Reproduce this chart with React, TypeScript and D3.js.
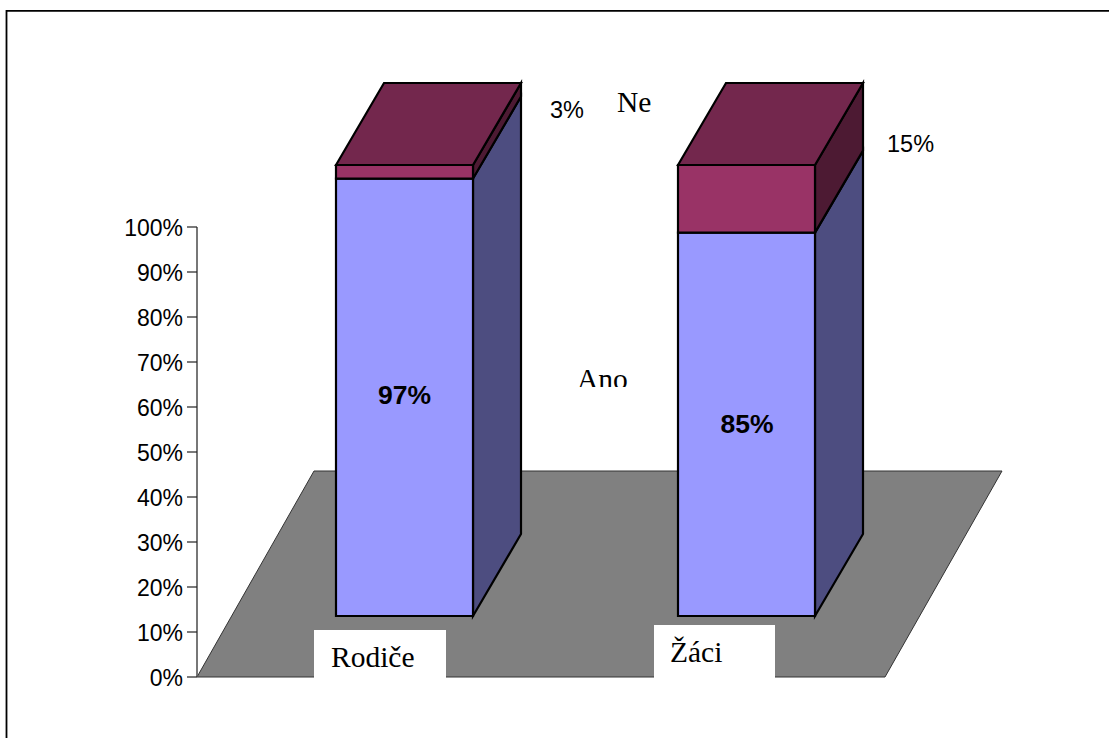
import React from "react";
import * as d3 from "d3";

const categories = ["Rodiče", "Žáci"];
const anoValues = [97, 85];
const neValues = [3, 15];
const anoLabels = ["97%", "85%"];
const neLabels = ["3%", "15%"];
const ticks = [0, 10, 20, 30, 40, 50, 60, 70, 80, 90, 100];

const W = 1109;
const H = 738;
const axisY = d3.scaleLinear().domain([0, 100]).range([677, 227]);
const barY = d3.scaleLinear().domain([0, 100]).range([616, 165]);
const barX = d3.scalePoint<string>().domain(categories).range([336, 678]);
const barW = 137;
const dx = 48;
const dy = 82;

const poly = (pts: [number, number][]) => d3.line()(pts)! + "Z";

const arial = "'Liberation Sans', Arial, sans-serif";
const times = "'Liberation Serif', 'Times New Roman', serif";

const catBoxes = [
  { x: 314, y: 630, w: 132, h: 48, tx: 331, ty: 667 },
  { x: 654, y: 625, w: 121, h: 53, tx: 670, ty: 661.5 },
];
const anoLabelPos = [
  { x: 404.5, y: 403.5 },
  { x: 747, y: 432.5 },
];
const neLabelPos = [
  { x: 550, y: 117.5 },
  { x: 887, y: 151.5 },
];

function Bar({ i }: { i: number }) {
  const x = barX(categories[i])!;
  const a = anoValues[i];
  const yBase = barY(0);
  const yA = barY(a);
  const yT = barY(a + neValues[i]);
  const x2 = x + barW;
  const stroke = { stroke: "#000", strokeWidth: 2.2, strokeLinejoin: "miter" as const };
  return (
    <g>
      <path d={poly([[x2, yBase], [x2 + dx, yBase - dy], [x2 + dx, yA - dy], [x2, yA]])} fill="#4d4d80" {...stroke} />
      <path d={poly([[x2, yA], [x2 + dx, yA - dy], [x2 + dx, yT - dy], [x2, yT]])} fill="#4d1a33" {...stroke} />
      <path d={poly([[x, yT], [x + dx, yT - dy], [x2 + dx, yT - dy], [x2, yT]])} fill="#73274d" {...stroke} />
      <path d={poly([[x, yBase], [x2, yBase], [x2, yA], [x, yA]])} fill="#9999ff" {...stroke} />
      <path d={poly([[x, yA], [x2, yA], [x2, yT], [x, yT]])} fill="#993366" {...stroke} />
    </g>
  );
}

export default function App() {
  return (
    <svg
      width={W}
      height={H}
      viewBox={`0 0 ${W} ${H}`}
      style={{ position: "absolute", left: 0, top: 0, display: "block", background: "#fff" }}
    >
      <path d="M6.5 738V10.8H1109" fill="none" stroke="#000" strokeWidth={1.8} />
      <path
        d={poly([[197, 677], [885, 677], [1002, 471], [314, 471]])}
        fill="#808080"
        stroke="#333"
        strokeWidth={1}
      />
      <line x1={197} x2={197} y1={227} y2={677} stroke="#555" strokeWidth={1.6} />
      {ticks.map((t) => (
        <g key={t}>
          <line x1={187} x2={197} y1={axisY(t)} y2={axisY(t)} stroke="#222" strokeWidth={1.2} />
          <text x={183} y={axisY(t) + 8.5} textAnchor="end" fontFamily={arial} fontSize={23} fill="#000">
            {t}%
          </text>
        </g>
      ))}
      {categories.map((c, i) => (
        <Bar key={c} i={i} />
      ))}
      {categories.map((c, i) => (
        <g key={c}>
          <rect x={catBoxes[i].x} y={catBoxes[i].y} width={catBoxes[i].w} height={catBoxes[i].h} fill="#fff" />
          <text x={catBoxes[i].tx} y={catBoxes[i].ty} fontFamily={times} fontSize={29.5} fill="#000">
            {c}
          </text>
          <text x={anoLabelPos[i].x} y={anoLabelPos[i].y} textAnchor="middle" fontFamily={arial} fontWeight="bold" fontSize={26.5} fill="#000">
            {anoLabels[i]}
          </text>
          <text x={neLabelPos[i].x} y={neLabelPos[i].y} fontFamily={arial} fontSize={23.5} fill="#000">
            {neLabels[i]}
          </text>
        </g>
      ))}
      <text x={617} y={112} fontFamily={times} fontSize={29.5} fill="#000">Ne</text>
      <defs>
        <clipPath id="ano-clip">
          <rect x={570} y={360} width={70} height={27} />
        </clipPath>
      </defs>
      <text x={577} y={388.5} fontFamily={times} fontSize={29.5} fill="#000" clipPath="url(#ano-clip)">Ano</text>
    </svg>
  );
}
